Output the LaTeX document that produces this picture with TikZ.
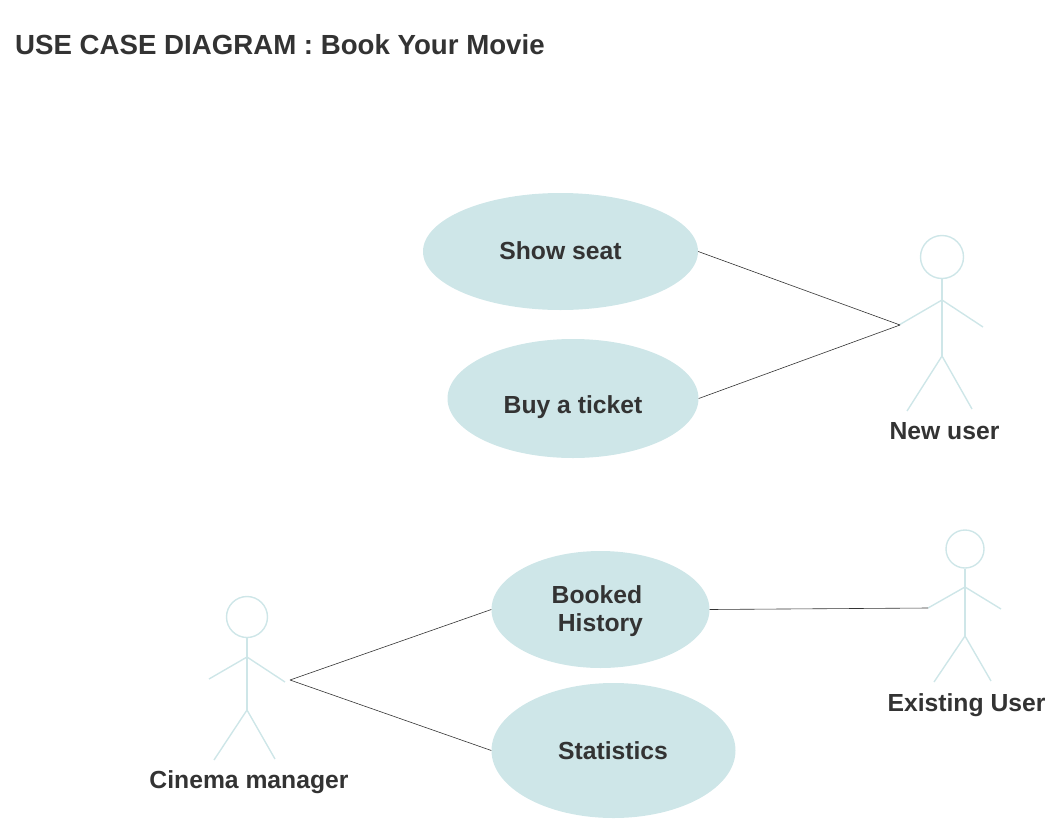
\documentclass[tikz,border=0pt]{standalone}
\usepackage{fontspec}
\setmainfont{Liberation Sans}
\usetikzlibrary{shapes.geometric}
\definecolor{uc}{HTML}{CEE6E8}
\definecolor{ink}{HTML}{333333}
\tikzset{x=1pt,y=-1pt,
 usecase/.style={ellipse,fill=uc,inner sep=0pt},
 lbl/.style={font=\bfseries\fontsize{24.7pt}{28pt}\selectfont,text=ink,align=center,inner sep=0pt},
 limb/.style={draw=uc,line width=1.4pt},
 assoc/.style={draw=ink,line width=0.6pt}}
\begin{document}
\begin{tikzpicture}
\useasboundingbox (0,0) rectangle (1058,830);
\node[lbl,anchor=west,font=\bfseries\fontsize{27.65pt}{30pt}\selectfont] (title) at (15,45) {USE CASE DIAGRAM : Book Your Movie};
\node[usecase,minimum width=275pt,minimum height=117pt] (seat) at (560.5,251.5) {};
\node[lbl] (seatt) at (560.5,251) {Show seat};
\node[usecase,minimum width=251pt,minimum height=119pt] (buy) at (573,398.5) {};
\node[lbl] (buyt) at (573,407.5) {Buy a ticket};
\node[usecase,minimum width=218pt,minimum height=117pt] (hist) at (600.5,609.5) {};
\node[lbl] (histt) at (597,611.5) {Booked\\\ History};
\node[usecase,minimum width=244pt,minimum height=135pt] (stat) at (613.5,750.5) {};
\node[lbl] (statt) at (613,750.5) {Statistics};
% actor new user
\node[circle,draw=uc,line width=1.4pt,minimum size=43pt,inner sep=0pt] (nhead) at (942,257) {};
\coordinate (nneck) at (942,300);
\coordinate (nhip) at (942,356);
\coordinate (nl) at (899,325);
\draw[limb] (nhead.south) -- (nhip);
\draw[limb] (nl) -- (nneck) -- (983,327);
\draw[limb] (907,411) -- (nhip) -- (972,409);
\node[lbl] (nu) at (944.5,431) {New user};
% actor existing
\node[circle,draw=uc,line width=1.4pt,minimum size=38pt,inner sep=0pt] (ehead) at (965,549) {};
\coordinate (eneck) at (965,587);
\coordinate (ehip) at (965,636);
\coordinate (el) at (928,608);
\draw[limb] (ehead.south) -- (ehip);
\draw[limb] (el) -- (eneck) -- (1001,609);
\draw[limb] (934,682) -- (ehip) -- (991,681);
\node[lbl] (eu) at (966.5,705) {Existing User};
% actor manager
\node[circle,draw=uc,line width=1.4pt,minimum size=41pt,inner sep=0pt] (mhead) at (247,617) {};
\coordinate (mneck) at (247,657);
\coordinate (mhip) at (247,710);
\coordinate (mr) at (285,682);
\draw[limb] (mhead.south) -- (mhip);
\draw[limb] (209,679) -- (mneck) -- (mr);
\draw[limb] (214,760) -- (mhip) -- (275,759);
\node[lbl] (mu) at (249,782) {Cinema manager};
% connectors
\coordinate (nc) at (900,325);
\coordinate (mc) at (290,680);
\draw[assoc] (seat.east) -- (nc);
\draw[assoc] (buy.east) -- (nc);
\draw[assoc] (hist.east) -- (el);
\draw[assoc] (mc) -- (hist.west);
\draw[assoc] (mc) -- (stat.west);
\end{tikzpicture}
\end{document}
